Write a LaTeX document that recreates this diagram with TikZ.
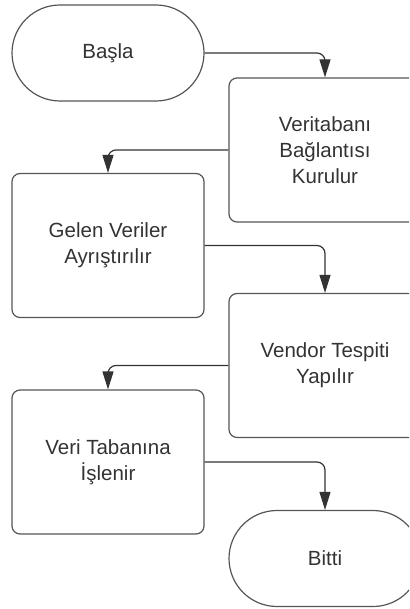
\documentclass[tikz,border=0pt]{standalone}
\usepackage{fontspec}
\setmainfont{Liberation Sans}
\usetikzlibrary{shapes.misc,arrows.meta}
\definecolor{txt}{HTML}{333333}
\definecolor{edge}{HTML}{555555}
\tikzset{
  base/.style={draw=edge, line width=1.2pt, text=txt, align=center,
    font=\fontsize{20.5}{26}\selectfont, inner sep=0pt},
  procbox/.style={base, rectangle, rounded corners=8pt, minimum width=192pt, minimum height=144pt},
  termbox/.style={base, rounded rectangle, minimum width=192pt, minimum height=96pt},
  flow/.style={draw=txt, line width=1.2pt, rounded corners=8pt,
    -{Triangle[length=18pt,width=11pt]}}
}
\begin{document}
\begin{tikzpicture}[x=1pt,y=-1pt]
\useasboundingbox (0,0) rectangle (409,609);
\clip (0,0) rectangle (409,609);
\node[termbox] (start) at (108,53) {Başla};
\node[procbox] (db) at (325,150) {Veritabanı\\Bağlantısı\\Kurulur};
\node[procbox] (parse) at (108,245.5) {Gelen Veriler\\Ayrıştırılır};
\node[procbox] (vendor) at (325,365.5) {Vendor Tespiti\\Yapılır};
\node[procbox] (save) at (108,462) {Veri Tabanına\\İşlenir};
\node[termbox] (end) at (325,558.5) {Bitti};
\draw[flow] (start.east) -| (db.north);
\draw[flow] (db.west) -| (parse.north);
\draw[flow] (parse.east) -| (vendor.north);
\draw[flow] (vendor.west) -| (save.north);
\draw[flow] (save.east) -| (end.north);
\end{tikzpicture}
\end{document}
